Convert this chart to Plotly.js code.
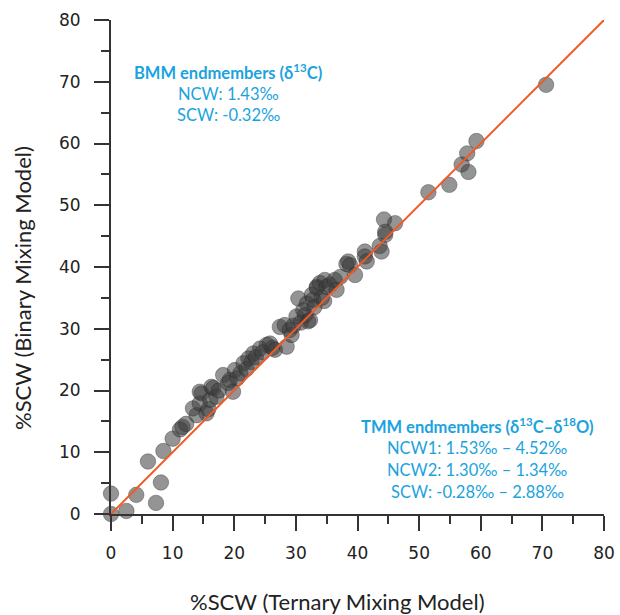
<!DOCTYPE html>
<html>
<head>
<meta charset="utf-8">
<script src="https://cdn.plot.ly/plotly-3.0.1.min.js"></script>
<style>html,body{margin:0;padding:0;background:#fff}#chart{width:620px;height:615px}</style>
</head>
<body>
<div id="chart"></div>
<script>
// %SCW from Ternary Mixing Model (x) and Binary Mixing Model (y)
const ternary = [0,0,2.5,4.1,6.0,7.3,8.1,8.5,10.0,11.2,11.6,12.2,13.3,13.9,14.4,14.7,14.4,15.5,15.8,16.1,16.3,16.6,17.1,17.5,18.2,19.0,19.3,19.8,20.1,20.5,21.0,21.5,22.0,22.3,22.8,23.1,23.5,24.2,24.6,25.3,25.8,26.2,26.6,27.4,28.2,28.5,29.0,29.3,29.6,30.1,30.4,30.8,31.2,31.5,31.8,32.0,32.3,32.6,32.8,33.0,33.4,33.4,33.9,34.2,34.6,34.7,35.0,35.5,36.3,36.6,37.2,38.2,38.5,38.8,39.6,41.2,41.2,41.5,43.6,43.9,44.5,44.5,44.3,46.1,51.5,54.9,56.9,57.8,58.0,59.3,70.6];
const binary  = [0,3.3,0.5,3.1,8.5,1.8,5.1,10.2,12.2,13.7,14.1,14.6,17.1,16.0,17.9,19.5,19.8,16.3,17.0,18.5,20.6,20.4,19.0,20.0,22.5,21.2,21.7,19.8,23.3,22.0,22.8,24.4,23.5,25.2,24.6,26.0,25.4,26.8,26.2,27.4,27.6,26.9,26.6,30.3,30.6,27.1,29.8,29.0,30.5,32.0,34.9,31.0,33.0,32.2,34.1,31.2,31.4,35.5,34.7,33.5,36.8,36.6,37.4,35.0,34.5,37.9,36.8,37.1,37.9,36.3,38.4,40.5,40.9,40.3,38.7,42.5,41.7,40.9,43.4,42.5,45.7,45.2,47.7,47.1,52.1,53.3,56.6,58.4,55.4,60.4,69.5];
const lineX = [0,80];
const lineY = [0,80];
const xTitle = '%SCW (Ternary Mixing Model)';
const yTitle = '%SCW (Binary Mixing Model)';
const bmmLines = ['<b>BMM endmembers (δ<sup>13</sup>C)</b>','NCW: 1.43‰','SCW: -0.32‰'];
const tmmLines = ['<b>TMM endmembers (δ<sup>13</sup>C–δ<sup>18</sup>O)</b>','NCW1: 1.53‰ – 4.52‰','NCW2: 1.30‰ – 1.34‰','SCW: -0.28‰ – 2.88‰'];

const blue = '#1BA3DD';
const axisCommon = {
  range:[0,80], showgrid:false, zeroline:false, showline:true, linewidth:2, linecolor:'#333',
  ticks:'outside', ticklen:15, tickwidth:2, tickcolor:'#333',
  tickmode:'linear', tick0:0, dtick:10,
  tickfont:{family:'DejaVu Sans', size:17, color:'#222'},
  minor:{ticks:'outside', ticklen:8, tickwidth:2, tickcolor:'#333', dtick:5, tick0:0, showgrid:false},
  fixedrange:true
};

const annotations = [];
const bmmY = [72, 94, 115];
bmmLines.forEach((t,i)=>annotations.push({xref:'paper',yref:'paper',x:(228-111)/493,y:(514-bmmY[i])/494,text:t,showarrow:false,xanchor:'center',yanchor:'middle',font:{family:'Lato',size:16.5,color:blue}}));
const tmmY = [426, 448, 470, 492];
tmmLines.forEach((t,i)=>annotations.push({xref:'paper',yref:'paper',x:(477-111)/493,y:(514-tmmY[i])/494,text:t,showarrow:false,xanchor:'center',yanchor:'middle',font:{family:'Lato',size:16.5,color:blue}}));
annotations.push({xref:'paper',yref:'paper',x:(337-111)/493,y:(514-601)/494,text:xTitle,showarrow:false,xanchor:'center',yanchor:'middle',font:{family:'Lato',size:22,color:'#222'}});
annotations.push({xref:'paper',yref:'paper',x:(22-111)/493,y:(514-288)/494,text:yTitle,textangle:-90,showarrow:false,xanchor:'center',yanchor:'middle',font:{family:'Lato',size:22,color:'#222'}});

const data = [
  {x:ternary, y:binary, type:'scatter', mode:'markers', cliponaxis:false,
   marker:{size:15.5, color:'rgba(60,60,60,0.55)', line:{width:0.8, color:'rgba(40,40,40,0.45)'}}, hoverinfo:'skip'},
  {x:lineX, y:lineY, type:'scatter', mode:'lines', cliponaxis:false, line:{color:'#F05A24', width:2}, hoverinfo:'skip'}
];
const layout = {
  width:620, height:615, margin:{l:111, r:16, t:20, b:101},
  paper_bgcolor:'#fff', plot_bgcolor:'#fff', showlegend:false,
  xaxis:Object.assign({}, axisCommon, {ticklabelstandoff:8}),
  yaxis:Object.assign({}, axisCommon, {ticklabelstandoff:10}),
  annotations:annotations
};
Plotly.newPlot('chart', data, layout, {displayModeBar:false, staticPlot:true});
</script>
</body>
</html>
